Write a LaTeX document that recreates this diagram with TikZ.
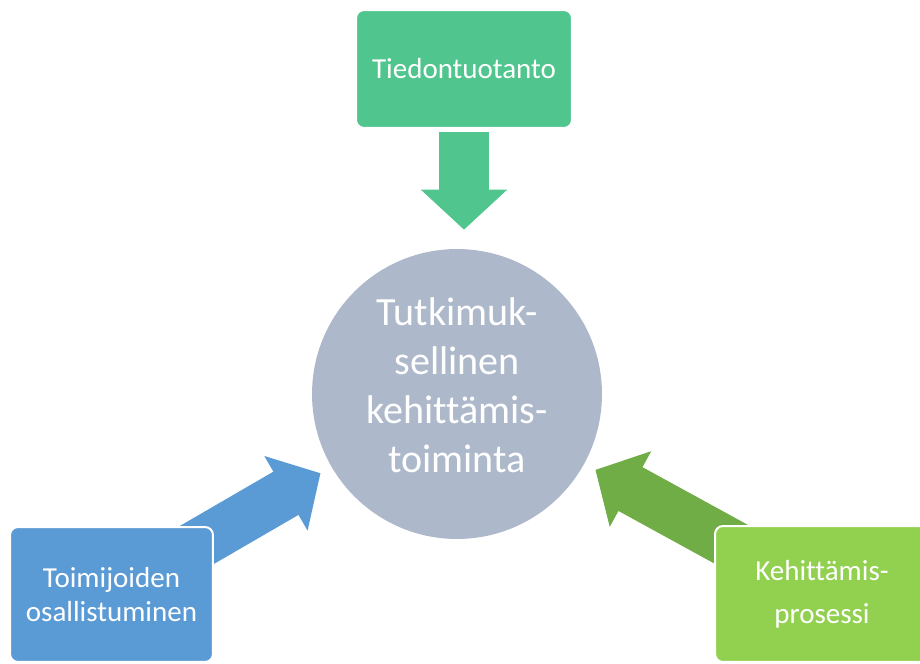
\documentclass[tikz,border=0pt]{standalone}
\usepackage{fontspec}
\setmainfont{Carlito}[Ligatures=CommonOff]
\usetikzlibrary{arrows.meta,backgrounds}
\definecolor{tealgreen}{RGB}{80,198,142}
\definecolor{skyblue}{RGB}{91,155,213}
\definecolor{limegreen}{RGB}{146,208,80}
\definecolor{leafgreen}{RGB}{112,173,71}
\definecolor{greyblue}{RGB}{173,185,202}
\tikzset{
	box/.style={draw=white, line width=0.04cm, rounded corners=0.16cm, text=white, align=center, font=\fontsize{16.5}{19.4}\selectfont},
	fatarrow/.style={line width=1cm, -{Triangle[width=1.68cm,length=0.8cm]}}
}
\begin{document}
\begin{tikzpicture}[x=0.02cm, y=-0.02cm, line join=miter]
	\clip (0,0) rectangle (920,663);
	\node[circle, fill=greyblue, minimum size=5.8cm, inner sep=0pt, text=white, align=center, text depth=0.36cm, font=\fontsize{22.8}{27.9}\selectfont] (core) at (457,394) {Tutkimuk-\\sellinen\\kehittämis-\\toiminta};
	\node[box, fill=tealgreen, minimum width=4.32cm, minimum height=2.36cm] (tieto) at (464,69) {Tiedontuotanto};
	\node[box, fill=skyblue, minimum width=4.06cm, minimum height=2.7cm] (toimijat) at (111.5,594.5) {Toimijoiden\\osallistuminen};
	\node[box, fill=limegreen, minimum width=4.28cm, minimum height=2.72cm, font=\fontsize{16.5}{24.5}\selectfont] (prosessi) at (822,594) {Kehittämis-\\prosessi};
	\begin{scope}[on background layer]
	\draw[fatarrow, tealgreen, shorten <=0.06cm, shorten >=0.38cm] (tieto.south) -- (tieto.south |- core.north);
	\draw[fatarrow, skyblue, shorten >=0.25cm] (toimijat.center) -- (core);
	\draw[fatarrow, leafgreen, shorten >=0.25cm] (prosessi.center) -- (core);
	\end{scope}
\end{tikzpicture}
\end{document}
